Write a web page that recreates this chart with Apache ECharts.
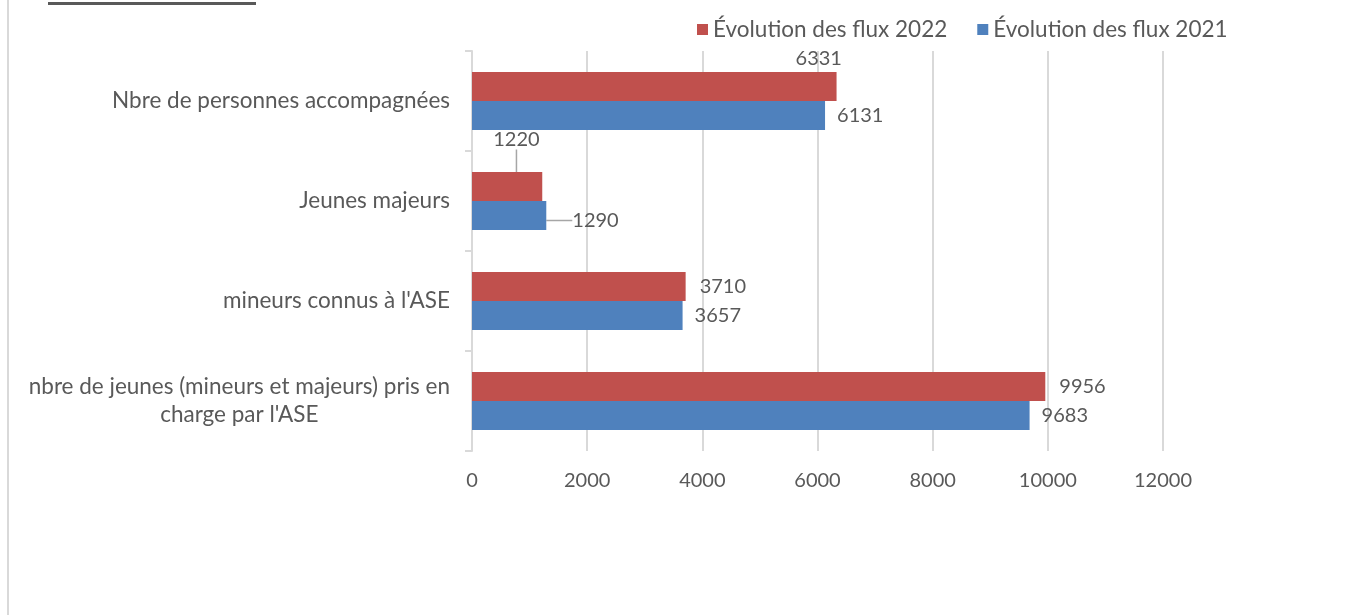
<!DOCTYPE html>
<html>
<head>
<meta charset="utf-8">
<script src="https://cdn.jsdelivr.net/npm/echarts@6/dist/echarts.min.js"></script>
<style>
html,body{margin:0;padding:0;background:#fff;}
#chart{width:1357px;height:615px;}
</style>
</head>
<body>
<div id="chart"></div>
<script>
const categories = [
  "nbre de jeunes (mineurs et majeurs) pris en\ncharge par l'ASE",
  "mineurs connus à l'ASE",
  "Jeunes majeurs",
  "Nbre de personnes accompagnées"
];
const seriesNames = ["Évolution des flux 2022", "Évolution des flux 2021"];
const values2022 = [9956, 3710, 1220, 6331];
const values2021 = [9683, 3657, 1290, 6131];
const xTicks = [0, 2000, 4000, 6000, 8000, 10000, 12000];

const FONT = "Lato";
const FS = 20;
const FS_TXT = 22.5;
const TXT = "#595959";

function withLeader(vals, idx) {
  return vals.map(function (v, i) {
    return { value: v, labelLine: { show: i === idx } };
  });
}

const chart = echarts.init(document.getElementById('chart'));
chart.setOption({
  backgroundColor: '#fff',
  animation: false,
  textStyle: { fontFamily: FONT, color: TXT },
  legend: {
    data: seriesNames,
    left: 692, top: 13,
    itemWidth: 11, itemHeight: 11, itemGap: 30,
    icon: 'rect',
    textStyle: { fontFamily: FONT, fontSize: FS_TXT, color: TXT }
  },
  grid: { left: 472, top: 51, width: 691, height: 400, containLabel: false },
  xAxis: {
    type: 'value',
    min: xTicks[0], max: xTicks[xTicks.length - 1], interval: 2000,
    axisLine: { show: false },
    axisTick: { show: false },
    splitLine: { show: true, lineStyle: { color: '#d9d9d9', width: 2 } },
    axisLabel: { fontFamily: FONT, fontSize: FS, color: TXT, margin: 20,
      formatter: function (v) { return String(v); } }
  },
  yAxis: {
    type: 'category',
    data: categories,
    axisLine: { show: true, lineStyle: { color: '#d9d9d9', width: 2 } },
    axisTick: { show: true, length: 7, lineStyle: { color: '#d9d9d9', width: 2 } },
    axisLabel: {
      margin: 22,
      align: 'right',
      formatter: function (v) {
        return v.split('\n').map(function (l) { return '{c|' + l + '}'; }).join('\n');
      },
      rich: { c: { align: 'center', fontFamily: FONT, fontSize: FS_TXT, color: TXT, lineHeight: 28 } }
    }
  },
  series: [
    {
      name: seriesNames[0], type: 'bar', data: withLeader(values2022, 2),
      barCategoryGap: '42%', barGap: '0%',
      itemStyle: { color: '#C0504D' },
      label: { show: true, position: 'right', distance: 14, fontFamily: FONT, fontSize: FS, color: TXT },
      labelLine: { lineStyle: { color: '#a6a6a6', width: 1.5 } },
      labelLayout: function (p) {
        if (p.dataIndex === 3) return { dx: -55, dy: -28 };
        if (p.dataIndex === 2) return { dx: -63, dy: -47 };
        return {};
      }
    },
    {
      name: seriesNames[1], type: 'bar', data: withLeader(values2021, 2),
      barCategoryGap: '42%', barGap: '0%',
      itemStyle: { color: '#4F81BD' },
      label: { show: true, position: 'right', distance: 12, fontFamily: FONT, fontSize: FS, color: TXT },
      labelLine: { lineStyle: { color: '#a6a6a6', width: 1.5 } },
      labelLayout: function (p) {
        if (p.dataIndex === 2) return { dx: 14, dy: 5 };
        return {};
      }
    }
  ],
  graphic: [
    { type: 'rect', shape: { x: 7, y: 0, width: 2, height: 615 }, style: { fill: '#d9d9d9' }, silent: true },
    { type: 'rect', shape: { x: 48, y: 2, width: 208, height: 3 }, style: { fill: '#595959' }, silent: true }
  ]
});
</script>
</body>
</html>
